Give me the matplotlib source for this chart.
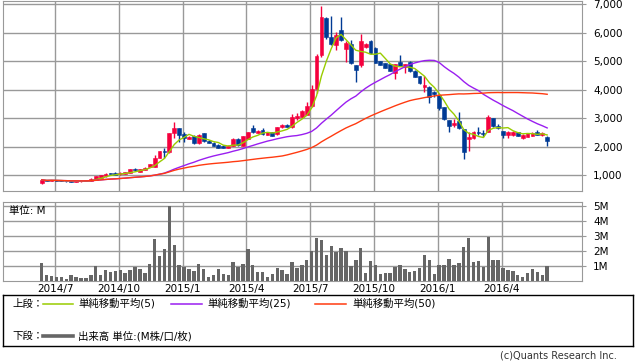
import numpy as np
import pandas as pd
import matplotlib
matplotlib.use("Agg")
from matplotlib import pyplot as plt

plt.rcParams['font.family'] = ['DejaVu Sans', 'Noto Sans CJK JP']

# weekly bars, Friday dated
dates = pd.date_range("2014-06-13", periods=104, freq="7D")

# O, H, L, C per week (yen)
opens = [720, 810, 790, 810, 800, 790, 790, 770, 780, 790,
         790, 830, 900, 950, 1050, 1080, 1020, 1040, 1080, 1190,
         1100, 1170, 1290, 1290, 1600, 1830, 1800, 2490, 2650, 2430,
         2270, 2370, 2110, 2470, 2200, 2140, 2070, 2030, 1950, 2030,
         2270, 2030, 2270, 2660, 2490, 2580, 2420, 2500, 2430, 2680,
         2760, 2680, 3000, 3030, 3120, 3420, 4040, 5211, 6520, 5854,
         5560, 6088, 5420, 5620, 4860, 4880, 5500, 5710, 5470, 4990,
         4920, 4895, 4570, 4976, 4780, 4976, 4660, 4475, 4100, 4100,
         3925, 3800, 3375, 2930, 2750, 2900, 2600, 2250, 2300, 2520,
         2470, 2520, 2990, 2720, 2540, 2400, 2400, 2500, 2310, 2350,
         2370, 2520, 2400, 2350]
highs = [850, 820, 830, 820, 810, 800, 800, 790, 800, 810,
         880, 970, 1010, 1060, 1080, 1100, 1090, 1110, 1220, 1250,
         1210, 1270, 1400, 1700, 1860, 1960, 2480, 2860, 2660, 2500,
         2370, 2390, 2450, 2490, 2220, 2160, 2090, 2050, 2040, 2290,
         2290, 2380, 2520, 2760, 2580, 2660, 2510, 2520, 2690, 2780,
         2790, 3160, 3180, 3300, 3560, 4150, 5250, 6930, 6550, 6590,
         6030, 6560, 5700, 5740, 4880, 5970, 5640, 5740, 5490, 5010,
         4940, 4910, 4910, 5210, 4910, 4990, 4680, 4490, 4475, 4130,
         3950, 3820, 3390, 2950, 2960, 3220, 2620, 2500, 2540, 2700,
         2580, 3110, 3010, 2810, 2560, 2560, 2530, 2520, 2440, 2480,
         2510, 2580, 2520, 2370]
lows = [700, 780, 780, 790, 780, 770, 760, 760, 770, 780,
        780, 820, 890, 940, 1020, 990, 1000, 1030, 1070, 1130,
        1090, 1160, 1280, 1280, 1590, 1610, 1790, 2300, 2170, 2170,
        2250, 2100, 2090, 2170, 2110, 2020, 1940, 1940, 1940, 2020,
        2020, 2010, 2250, 2480, 2470, 2420, 2400, 2370, 2420, 2670,
        2690, 2660, 2950, 3010, 3100, 3400, 3900, 5150, 5795, 5560,
        5410, 5700, 4980, 4900, 4275, 4800, 5480, 5260, 4920, 4850,
        4750, 4640, 4380, 4820, 4600, 4630, 4430, 4200, 3925, 3515,
        3750, 3300, 2940, 2520, 2700, 2600, 1560, 1860, 2280, 2420,
        2330, 2500, 2700, 2620, 2290, 2300, 2380, 2370, 2280, 2330,
        2360, 2390, 2380, 2020]
closes = [830, 790, 820, 800, 790, 780, 765, 780, 790, 800,
          870, 950, 1000, 1050, 1040, 1000, 1080, 1100, 1200, 1180,
          1200, 1260, 1390, 1600, 1850, 1810, 2460, 2640, 2400, 2300,
          2350, 2120, 2420, 2180, 2120, 2030, 1960, 1960, 2030, 2270,
          2040, 2370, 2500, 2500, 2560, 2440, 2500, 2380, 2680, 2760,
          2700, 3040, 3060, 3250, 3420, 4010, 5176, 6556, 5854, 5620,
          5910, 5760, 5640, 4940, 4680, 5700, 5620, 5290, 4940, 4870,
          4770, 4660, 4895, 4836, 4895, 4650, 4450, 4217, 4150, 3750,
          3840, 3340, 2965, 2720, 2840, 2640, 1820, 2320, 2520, 2480,
          2450, 3050, 2720, 2640, 2400, 2520, 2520, 2380, 2420, 2460,
          2490, 2400, 2480, 2210]

# volume, millions
volume = [1.2, 0.36, 0.3, 0.23, 0.23, 0.1, 0.34, 0.27, 0.16, 0.16,
          0.34, 0.95, 0.36, 0.7, 0.6, 0.64, 0.7, 0.5, 0.68, 0.93,
          0.77, 0.5, 1.1, 2.8, 1.65, 2.1, 5.0, 2.4, 1.05, 0.93,
          0.77, 0.64, 1.1, 0.77, 0.23, 0.36, 0.77, 0.43, 0.36, 1.25,
          0.9, 1.1, 2.1, 1.05, 0.57, 0.57, 0.27, 0.43, 0.84, 0.7,
          0.43, 1.25, 0.84, 1.05, 1.4, 2.0, 2.9, 2.75, 1.73, 2.35,
          1.93, 2.2, 2.0, 0.98, 1.4, 2.2, 0.5, 1.32, 1.05, 0.43,
          0.5, 0.5, 0.9, 1.05, 0.77, 0.57, 0.64, 0.84, 1.73, 1.4,
          0.43, 1.05, 1.05, 1.45, 1.05, 1.18, 2.27, 2.9, 1.25, 1.32,
          0.9, 2.95, 1.4, 1.4, 0.84, 0.7, 0.64, 0.36, 0.23, 0.5,
          0.77, 0.57, 0.36, 0.98]

month_starts = ["2014-07-01", "2014-10-01", "2015-01-01", "2015-04-01",
                "2015-07-01", "2015-10-01", "2016-01-01", "2016-04-01"]
month_labels = ["2014/7", "2014/10", "2015/1", "2015/4",
                "2015/7", "2015/10", "2016/1", "2016/4"]
price_ticks = [1000, 2000, 3000, 4000, 5000, 6000, 7000]
vol_ticks = [1, 2, 3, 4, 5]

legend_names = ["単純移動平均(5)", "単純移動平均(25)", "単純移動平均(50)"]

UP = "#f5003d"
DOWN = "#003a94"
GRID = "#999999"
MA_COLORS = ["#99cc00", "#9a1ef0", "#ff3a10"]

x = np.arange(len(dates))
o = np.array(opens, float)
c = np.array(closes, float)
h = np.array(highs, float)
l = np.array(lows, float)
up = c >= o
cols = np.where(up, UP, DOWN)

s = pd.Series(closes, dtype=float)
mas = [s.rolling(n, min_periods=1).mean() for n in (5, 25, 50)]

grid_x = [np.searchsorted(dates, pd.Timestamp(d)) - 0.3 for d in month_starts]

W, H = 638, 362
fig = plt.figure(figsize=(W / 100, H / 100), dpi=100)
ax1 = fig.add_axes([3 / W, 1 - 190.5 / H, 579 / W, 189.5 / H])
ax2 = fig.add_axes([3 / W, 1 - 280.5 / H, 579 / W, 78.8 / H])

# candles
ax1.vlines(x, l, h, colors=cols, lw=1, zorder=3)
body = np.maximum(np.abs(c - o), 18)
ax1.bar(x, body, bottom=np.minimum(o, c), width=0.78, color=cols,
        edgecolor=cols, lw=0.4, zorder=3)
for ma, col in zip(mas, MA_COLORS):
    ax1.plot(x, ma, color=col, lw=1, zorder=4)

ax1.set_xlim(-7.9, 110.1)
ax1.set_ylim(456, 7116)
ax1.set_xticks(grid_x)
ax1.set_yticks(price_ticks)
ax1.set_yticklabels([f"{v:,}" for v in price_ticks])
ax1.tick_params(axis="x", length=0, labelbottom=False)
ax1.tick_params(axis="y", left=False, right=True, labelleft=False,
                labelright=True, length=3, color=GRID, pad=5, labelsize=7.5)
ax1.grid(True, color=GRID, lw=1, zorder=0)
ax1.set_axisbelow(True)

# volume
ax2.bar(x, volume, width=0.7, color="#666666", zorder=3)
ax2.set_xlim(-7.9, 110.1)
ax2.set_ylim(0, 5.32)
ax2.set_xticks(grid_x)
ax2.set_xticklabels(month_labels)
ax2.set_yticks(vol_ticks)
ax2.set_yticklabels([f"{v}M" for v in vol_ticks])
ax2.tick_params(axis="x", length=0, pad=2.5, labelsize=7.5)
ax2.tick_params(axis="y", left=False, right=True, labelleft=False,
                labelright=True, length=3, color=GRID, pad=5, labelsize=7.5)
ax2.grid(True, color=GRID, lw=1, zorder=0)
ax2.set_axisbelow(True)
ax2.annotate("単位: M", xy=(0, 1), xycoords="axes fraction",
             xytext=(4, -3), textcoords="offset points",
             ha="left", va="top", fontsize=7.5)

for ax in (ax1, ax2):
    for sp in ax.spines.values():
        sp.set_color(GRID)

# legend box
lg = fig.add_axes([3 / W, 1 - 346 / H, 630 / W, 50.7 / H])
lg.set_xlim(3, 633)
lg.set_ylim(346, 295.3)
lg.set_xticks([])
lg.set_yticks([])
for sp in lg.spines.values():
    sp.set_color("black")
    sp.set_linewidth(1)

row1, row2 = 303.7, 336
lg.text(12, row1, "上段：", fontsize=7.5, va="center")
seg_x = [(43, 73, 78), (171, 202, 207), (315, 346, 352)]
for (x0, x1, tx), col, name in zip(seg_x, MA_COLORS, legend_names):
    lg.plot([x0, x1], [row1, row1], color=col, lw=1.1)
    lg.text(tx, row1, name, fontsize=7.5, va="center")
lg.text(12, row2, "下段：", fontsize=7.5, va="center")
lg.plot([43, 73], [row2, row2], color="#666666", lw=2.6)
lg.text(78, row2, "出来高 単位:(M株/口/枚)", fontsize=7.5, va="center")

fig.text(617 / W, 1 - 356 / H, "(c)Quants Research Inc.", fontsize=7,
         ha="right", va="center", color="#333333")

fig.savefig("out.png", dpi=100)
